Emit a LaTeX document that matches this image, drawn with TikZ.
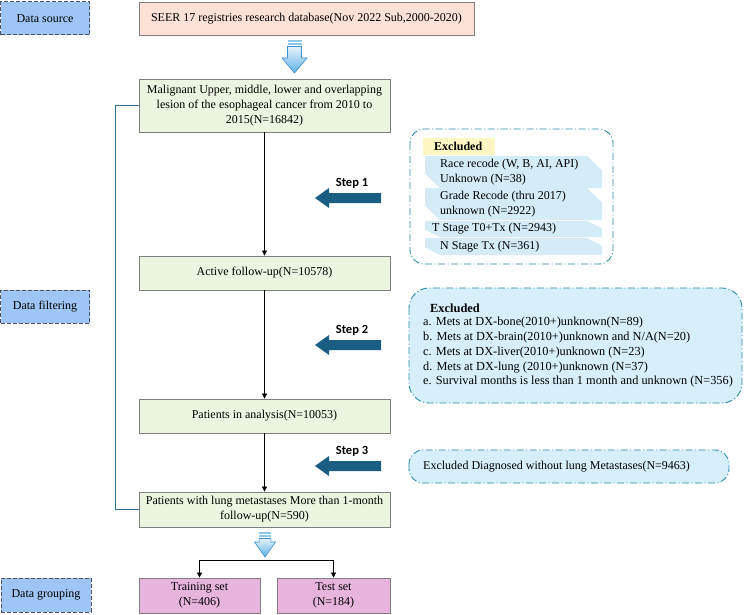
\documentclass[tikz,border=0pt]{standalone}
\usepackage{fontspec}
\setmainfont{Liberation Serif}
\newfontfamily\stepfont{Carlito}
\usetikzlibrary{arrows.meta}

\definecolor{seerpink}{HTML}{FBE1D6}
\definecolor{flowgreen}{HTML}{EBF5DF}
\definecolor{setpink}{HTML}{E6B4DD}
\definecolor{boxgray}{HTML}{7F7F7F}
\definecolor{lblblue}{HTML}{9EC5F5}
\definecolor{lblgray}{HTML}{4D5360}
\definecolor{stepblue}{HTML}{1A5E84}
\definecolor{bracketblue}{HTML}{2C6E98}
\definecolor{excline}{HTML}{2A8CAA}
\definecolor{excfill}{HTML}{D6EFFA}
\definecolor{itemfill}{HTML}{D3ECF8}
\definecolor{titleyellow}{HTML}{FDF6C3}
\definecolor{arrowlight}{HTML}{E6F3FC}
\definecolor{arrowdark}{HTML}{5DB0E3}
\definecolor{arrowedge}{HTML}{3A8FCF}

% hollow block arrow: centre x, top y, bottom y, half width
\newcommand{\blockarrow}[4]{%
  \fill[arrowdark!70] (#1-0.56*#4,#2) rectangle (#1+0.56*#4,#2+2);
  \fill[arrowdark!70] (#1-0.56*#4,#2+3) rectangle (#1+0.56*#4,#2+5);
  \draw[arrowedge, top color=arrowlight, bottom color=arrowdark, line width=0.6pt]
    (#1-0.56*#4,#2+6.5) -- (#1+0.56*#4,#2+6.5) -- (#1+0.56*#4,#3-15) -- (#1+#4,#3-15)
    -- (#1,#3) -- (#1-#4,#3-15) -- (#1-0.56*#4,#3-15) -- cycle;
}

\begin{document}
\begin{tikzpicture}[x=1pt, y=-1pt, font=\fontsize{12}{15}\selectfont,
    flowbox/.style={draw=boxgray, line width=0.8pt, inner sep=0pt, align=center, minimum width=251pt, minimum height=34pt, fill=flowgreen},
    lblbox/.style={draw=lblgray, fill=lblblue, dashed, dash pattern=on 4pt off 2pt, line width=1pt, minimum width=89pt, minimum height=33pt, inner sep=0pt},
    excbox/.style={draw=excline, line width=0.9pt, dash pattern=on 7pt off 2.5pt on 1pt off 2.5pt},
    flow/.style={-{Triangle[length=5pt,width=5pt]}, line width=0.7pt},
    txt/.style={anchor=west, inner sep=0pt, align=left}]
    \useasboundingbox (0,0) rectangle (744,615);

    % Stage labels
    \node[lblbox] (source) at (45,18.5) {Data source};
    \node[lblbox] (filtering) at (45,306.5) {Data filtering};
    \node[lblbox, minimum width=90pt, minimum height=34pt] (grouping) at (46,595) {Data grouping};

    % Main flow
    \node[flowbox, fill=seerpink, minimum width=335pt, minimum height=33pt] (seer) at (306.5,18.5)
        {SEER 17 registries research database(Nov 2022 Sub,2000-2020)};
    \blockarrow{294.5}{40}{73}{12.5}
    \node[flowbox, minimum height=53pt] (malig) at (264.5,105.5)
        {Malignant Upper, middle, lower and overlapping\\lesion of the esophageal cancer from 2010 to\\2015(N=16842)};
    \node[flowbox] (active) at (264.5,273) {Active follow-up(N=10578)};
    \node[flowbox] (analysis) at (264.5,416) {Patients in analysis(N=10053)};
    \node[flowbox, minimum height=35pt] (lungmet) at (264.5,509.5)
        {Patients with lung metastases More than 1-month\\follow-up(N=590)};
    \blockarrow{265}{532}{557}{10.5}
    \node[flowbox, fill=setpink, minimum width=121pt, minimum height=35pt] (train) at (199.5,595.5) {Training set\\(N=406)};
    \node[flowbox, fill=setpink, minimum width=113pt, minimum height=35pt] (test) at (333.5,595.5) {Test set\\(N=184)};

    \draw[flow] (malig) -- (active);
    \draw[flow] (active) -- (analysis);
    \draw[flow] (analysis) -- (lungmet);
    \coordinate (split) at (264.5,560);
    \draw[flow] (split) -| (train);
    \draw[flow] (split) -| (test);
    \draw[bracketblue, line width=1pt] (malig.west) -- ++(-23,0) |- (lungmet.west);

    % Step arrows
    \foreach \y/\s in {198/1, 345/2, 466/3} {
        \fill[stepblue] (315,\y) -- (329,\y-10) -- (329,\y-5) -- (381,\y-5) -- (381,\y+5) -- (329,\y+5) -- (329,\y+10) -- cycle;
        \node[font=\stepfont\bfseries\fontsize{12.5}{14}\selectfont] (step\s) at (352,\y-15) {Step \s};
    }

    % Excluded (step 1)
    \draw[excbox, fill=white, rounded corners=14pt] (410,129) rectangle (613,264);
    \fill[titleyellow] (423,138) rectangle (495,155);
    \node[txt, font=\bfseries\fontsize{12}{14}\selectfont] (exctitle) at (434,146.5) {Excluded};
    \foreach \ya/\yb in {156/188, 188/220, 221/237, 238/255} {
        \pgfmathsetmacro\cut{0.45*(\yb-\ya)}
        \fill[itemfill] (425,\ya) -- (587,\ya) -- (602,\ya+\cut) -- (602,\yb) -- (440,\yb) -- (425,\yb-\cut) -- cycle;
    }
    \node[txt, font=\fontsize{12}{14.5}\selectfont] (race) at (440,172) {Race recode (W, B, AI, API)\\Unknown (N=38)};
    \node[txt, font=\fontsize{12}{14.5}\selectfont] (grade) at (440,204) {Grade Recode (thru 2017)\\unknown (N=2922)};
    \node[txt] (tstage) at (432,229) {T Stage T0+Tx (N=2943)};
    \node[txt] (nstage) at (440,246.5) {N Stage Tx (N=361)};

    % Excluded (step 2)
    \draw[excbox, fill=excfill, rounded corners=20pt] (409,288) rectangle (742,403);
    \node[txt, font=\bfseries\fontsize{12.4}{14}\selectfont] (mettitle) at (430,308) {Excluded};
    \foreach \t [count=\i] in {a. Mets at DX-bone(2010+)unknown(N=89),
        b. Mets at DX-brain(2010+)unknown and N/A(N=20),
        c. Mets at DX-liver(2010+)unknown (N=23),
        d. Mets at DX-lung (2010+)unknown (N=37),
        e. Survival months is less than 1 month and unknown (N=356)} {
        \node[txt, font=\fontsize{12.3}{15}\selectfont] (met\i) at (423,{308+14.8*\i}) {\t};
    }

    % Excluded (step 3)
    \draw[excbox, fill=excfill, rounded corners=14pt] (409,450) rectangle (729,483);
    \node[txt] (nolung) at (423,466.5) {Excluded Diagnosed without lung Metastases(N=9463)};
\end{tikzpicture}
\end{document}
